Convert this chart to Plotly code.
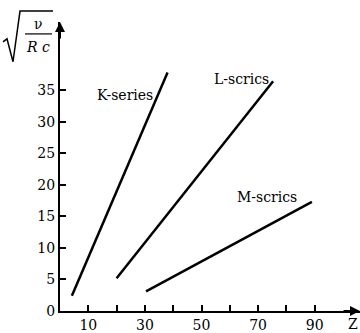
import plotly.graph_objects as go

# data
k_x = [4.2, 38.0]
k_y = [2.4, 37.8]
l_x = [20.0, 75.3]
l_y = [5.2, 36.4]
m_x = [30.4, 89.0]
m_y = [3.1, 17.3]
labels = ["K-series", "L-scrics", "M-scrics"]
label_x = [23.0, 64.0, 73.0]
label_y = [34.3, 36.7, 18.1]
x_ticks = [10, 20, 30, 40, 50, 60, 70, 80, 90]
x_ticktext = ["10", "", "30", "", "50", "", "70", "", "90"]
y_ticks = [0, 5, 10, 15, 20, 25, 30, 35]

XMAX = 106
YMAX = 45.8
FONT = "DejaVu Serif"

fig = go.Figure()
for xs, ys in [(k_x, k_y), (l_x, l_y), (m_x, m_y)]:
    fig.add_trace(go.Scatter(x=xs, y=ys, mode="lines",
                             line=dict(color="black", width=2.5),
                             showlegend=False, hoverinfo="skip"))

for t, x, y in zip(labels, label_x, label_y):
    fig.add_annotation(x=x, y=y, text=t, showarrow=False,
                       xanchor="center", yanchor="middle",
                       font=dict(family=FONT, size=14, color="black"))

# axis arrows
fig.add_annotation(x=0, y=YMAX, ax=0, ay=18, xref="x", yref="y",
                   text="", showarrow=True,
                   arrowhead=2, arrowwidth=2, arrowcolor="black", arrowsize=1)
fig.add_annotation(x=XMAX, y=0, ax=-18, ay=0, xref="x", yref="y",
                   text="", showarrow=True,
                   arrowhead=2, arrowwidth=2, arrowcolor="black", arrowsize=1)
# Z label at the right edge
fig.add_annotation(x=1, y=0, xref="paper", yref="y", text="Z", showarrow=False,
                   xanchor="right", yanchor="top", yshift=-3,
                   font=dict(family=FONT, size=14, color="black"))

# y-axis title: sqrt(nu / (R c))
def px(xp):
    return (xp - 60) / 300.0

def py(yp):
    return (313 - yp) / 291.0

rad = [(3, 42), (7, 39), (13, 62), (20, 11), (53, 11)]
path = "M " + " L ".join(f"{px(a):.4f},{py(b):.4f}" for a, b in rad)
fig.add_shape(type="path", path=path, xref="paper", yref="paper",
              line=dict(color="black", width=1.5))
fig.add_shape(type="line", xref="paper", yref="paper",
              x0=px(25), x1=px(52), y0=py(34), y1=py(34),
              line=dict(color="black", width=1.2))
fig.add_annotation(xref="paper", yref="paper", x=px(38), y=py(24), text="ν",
                   showarrow=False, xanchor="center", yanchor="middle",
                   font=dict(family=FONT, size=14, color="black"))
fig.add_annotation(xref="paper", yref="paper", x=px(38), y=py(47), text="<i>R c</i>",
                   showarrow=False, xanchor="center", yanchor="middle",
                   font=dict(family=FONT, size=14, color="black"))

fig.update_layout(
    width=360, height=333,
    margin=dict(l=60, r=0, t=22, b=20),
    paper_bgcolor="white", plot_bgcolor="white",
    font=dict(family=FONT, size=14, color="black"),
    xaxis=dict(range=[0, XMAX], tickvals=x_ticks, ticktext=x_ticktext,
               ticks="inside", ticklen=6, tickwidth=1.5, tickcolor="black",
               showline=True, linecolor="black", linewidth=2,
               showgrid=False, zeroline=False, fixedrange=True),
    yaxis=dict(range=[0, YMAX], tickvals=y_ticks,
               ticks="inside", ticklen=6, tickwidth=1.5, tickcolor="black",
               showline=True, linecolor="black", linewidth=2,
               showgrid=False, zeroline=False, fixedrange=True),
)

fig.write_html("out.html")
